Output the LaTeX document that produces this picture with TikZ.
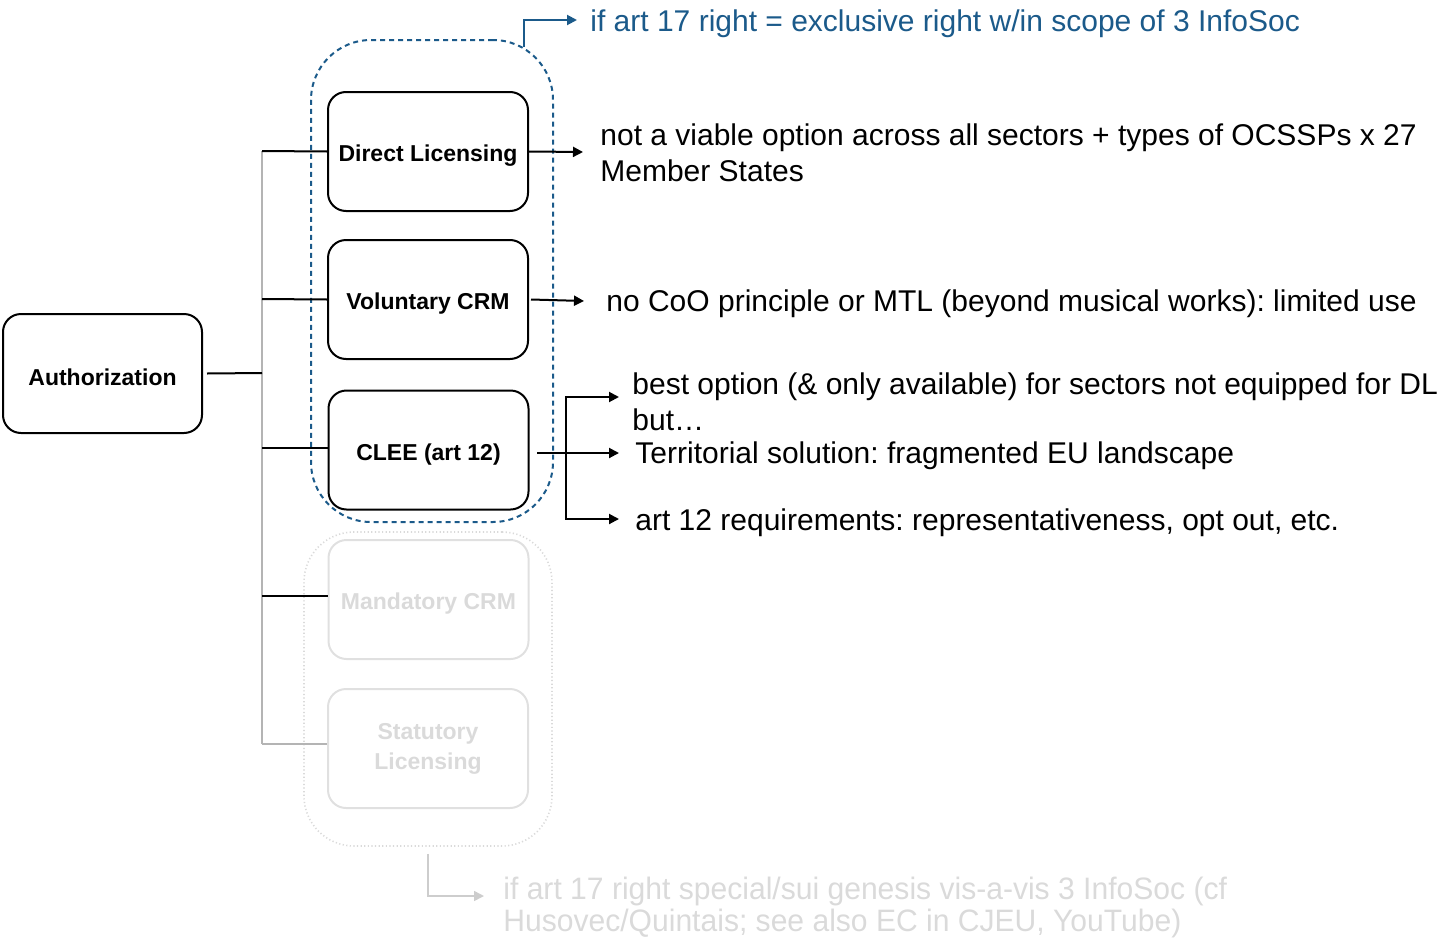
\documentclass[tikz,border=0pt]{standalone}
\usepackage{fontspec}
\setmainfont{Liberation Sans}
\usetikzlibrary{arrows.meta}
\frenchspacing
\definecolor{lawblue}{HTML}{1B5A8A}
\definecolor{fadebox}{HTML}{E0E0E0}
\definecolor{fadetext}{HTML}{DADADA}
\definecolor{busgray}{HTML}{B4B4B4}
\tikzset{
  optbox/.style={draw, line width=1pt, rounded corners=9pt, minimum width=100pt,
    minimum height=59.5pt, font=\fontsize{11.5}{15}\selectfont\bfseries, align=center,
    execute at begin node={\rule{0pt}{12.6pt}}},
  fadedbox/.style={optbox, draw=fadebox, text=fadetext},
  note/.style={anchor=west, inner sep=0pt, align=left, font=\fontsize{15}{18}\selectfont},
  link/.style={line width=1pt},
  arr/.style={line width=1pt, -{Triangle[length=5pt,width=5pt]}},
}
\begin{document}
\begin{tikzpicture}[x=0.5pt,y=-0.5pt]
\useasboundingbox (0,0) rectangle (1440,937);

% root node
\node[optbox, minimum width=99.5pt] (auth) at (102.5,373.5) {Authorization};

% the five options
\node[optbox] (dl)   at (428,151.5) {Direct Licensing};
\node[optbox] (vcrm) at (428,299.5) {Voluntary CRM};
\node[optbox] (clee) at (428.5,450) {CLEE (art 12)};
\node[fadedbox] (mcrm) at (428.5,599.5) {Mandatory CRM};
\node[fadedbox] (stat) at (428,748.5) {Statutory\\Licensing};

% groupings
\node[draw=lawblue, line width=1pt, dash pattern=on 2.5pt off 2pt, rounded corners=30pt,
      minimum width=121pt, minimum height=241pt] (grpA) at (432,281) {};
\node[draw=fadetext, line width=0.8pt, dash pattern=on 0.6pt off 1.2pt, rounded corners=25pt,
      minimum width=124pt, minimum height=157pt] (grpB) at (428,689) {};

% branching bus
\coordinate (busTop) at (262,151);
\coordinate (busV) at (262,299);
\coordinate (busA) at (262,373);
\coordinate (busC) at (262,448);
\coordinate (busM) at (262,596);
\coordinate (busBot) at (262,744);
\draw[link, busgray] (busTop) -- (busBot);
\draw[link] (busTop) -- (dl.west);
\draw[link] (busV) -- (vcrm.west);
\draw[link] ([xshift=2pt]auth.east) -- (busA);
\draw[link] (busC) -- (busC -| clee.west);
\draw[link] (busM) -- (busM -| mcrm.west);
\draw[link, busgray] (busBot) -- (busBot -| stat.west);

% annotations
\node[note, text=lawblue] (tBlue) at (590,24) {if art 17 right = exclusive right w/in scope of 3 InfoSoc};
\node[note] (tDL) at (600,153) {not a viable option across all sectors + types of OCSSPs x 27\\Member States};
\node[note] (tV) at (606,304) {no CoO principle or MTL (beyond musical works): limited use};
\node[note] (tBest) at (632,401.5) {best option (\& only available) for sectors not equipped for DL,\\but…};
\node[note] (tTerr) at (635,456) {Territorial solution: fragmented EU landscape};
\node[note] (tArt) at (635,523) {art 12 requirements: representativeness, opt out, etc.};
\node[anchor=west, inner sep=0pt, align=left, text=fadetext,
      font=\fontsize{15.5}{16}\selectfont] (tSui) at (503,907)
  {\scalebox{0.97}[1]{if art 17 right special/sui genesis vis-a-vis 3 InfoSoc (cf}\\
   \scalebox{0.97}[1]{Husovec/Quintais; see also EC in CJEU, YouTube)}};

% arrows to annotations
\coordinate (blueStart) at (524,47);
\draw[arr, lawblue] (blueStart) |- ([xshift=-6.5pt,yshift=2pt]tBlue.west);
\draw[arr] (dl.east) -- ([xshift=-8.5pt,yshift=0.5pt]tDL.west);
\draw[arr] ([xshift=1pt]vcrm.east) -- ([xshift=-11pt,yshift=1.5pt]tV.west);
\coordinate (cleeOut) at (537,453);
\coordinate (fork) at (566,453);
\draw[link] (cleeOut) -- (fork);
\draw[arr] (fork) -- ([xshift=-8pt,yshift=1.5pt]tTerr.west);
\draw[arr] (fork) |- ([xshift=-6.5pt,yshift=2.25pt]tBest.west);
\draw[arr] (fork) |- ([xshift=-8pt,yshift=2pt]tArt.west);
\draw[arr, fadetext!85!gray, line width=0.8pt] ([yshift=-3.5pt]grpB.south) |- ([xshift=-9.5pt,yshift=5.5pt]tSui.west);
\end{tikzpicture}
\end{document}
